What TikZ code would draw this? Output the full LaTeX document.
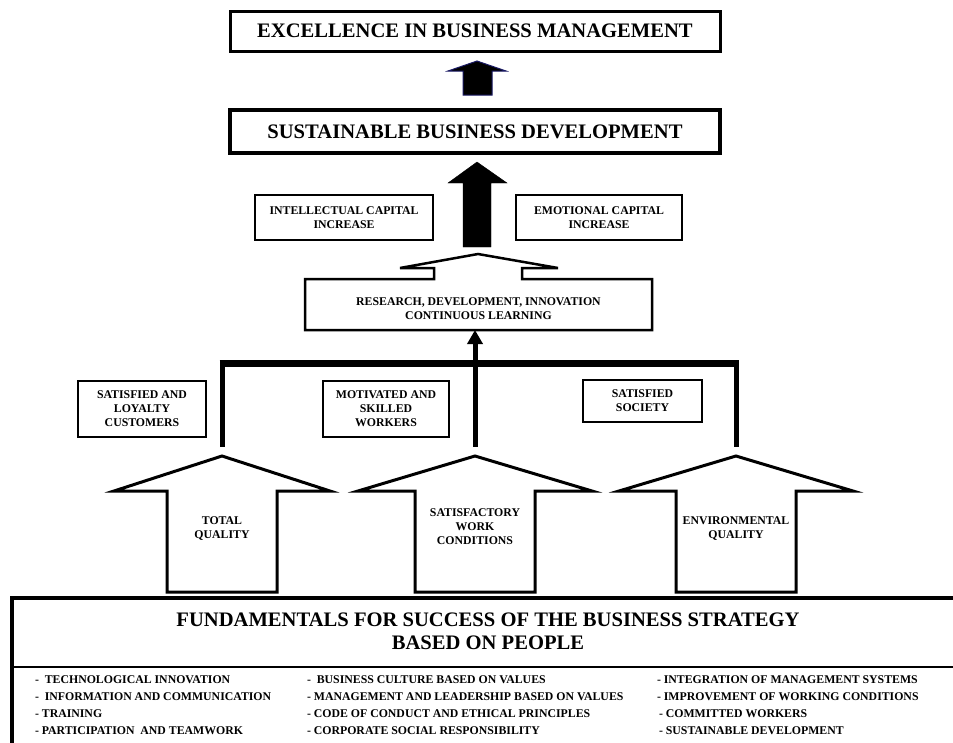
\documentclass[tikz,border=0pt]{standalone}
\usepackage{fontspec}
\setmainfont{Liberation Serif}
\usetikzlibrary{math,arrows.meta}

\begin{document}
\begin{tikzpicture}[x=1pt, y=-1pt,
    txt/.style={inner sep=0pt, outer sep=0pt, align=center, font=\fontsize{11.8}{14}\selectfont\bfseries},
    box/.style={txt, draw, line width=2pt},
    bigbox/.style={box, font=\fontsize{20.6}{24}\selectfont\bfseries},
    list/.style={txt, align=left, anchor=west, font=\fontsize{11.8}{17}\selectfont\bfseries},
    hollow/.style={draw, line width=3pt, fill=white},
    post/.style={line width=5pt}]
  \tikzmath{%
    \cx = 477; \busy = 363; \endy = 447;
    \tipy = 456; \wingy = 491; \basey = 592;
  }
  \useasboundingbox (0,0) rectangle (953,742);
  \clip (0,0) rectangle (953,742);

  % goals
  \node[bigbox, line width=3pt, minimum width=490, minimum height=40] (excel) at (475,31) {EXCELLENCE IN BUSINESS MANAGEMENT};
  \node[bigbox, line width=4pt, minimum width=490, minimum height=43] (sbd) at (475,131.5) {SUSTAINABLE BUSINESS DEVELOPMENT};
  \draw[fill=black, draw={rgb,255:red,25;green,25;blue,100}, line width=1pt]
    (463,95)--(463,71)--(448,71)--(\cx,61)--(506,71)--(492,71)--(492,95)--cycle;
  \draw[fill=black] (463,247)--(463,183)--(448,183)--(\cx,162)--(507,183)--(491,183)--(491,247)--cycle;

  \node[box, minimum width=178, minimum height=45] (intel) at (344,217.5) {INTELLECTUAL CAPITAL\\INCREASE};
  \node[box, minimum width=166, minimum height=45] (emot) at (599,217.5) {EMOTIONAL CAPITAL\\INCREASE};

  % R&D box, open at the top into its arrow
  \node[txt, minimum width=347, minimum height=51] (rd) at (478.5,304.5) {};
  \node[txt] (rdtext) at (478.5,309) {RESEARCH, DEVELOPMENT, INNOVATION\\CONTINUOUS LEARNING};
  \draw[line width=2.5pt] (rd.north west) -- (434,0 |- rd.north) -- (434,268) -- (400,268) -- (478,254)
    -- (558,268) -- (522,268) -- (522,0 |- rd.north) -- (rd.north east) -- (rd.south east) -- (rd.south west) -- cycle;

  \node[box, minimum width=128, minimum height=56] (cust) at (142,409) {SATISFIED AND\\LOYALTY\\CUSTOMERS};
  \node[box, minimum width=126, minimum height=56] (work) at (386,409) {MOTIVATED AND\\SKILLED\\WORKERS};
  \node[box, minimum width=119, minimum height=42] (soc) at (642.5,401) {SATISFIED\\SOCIETY};

  % bus
  \foreach \x [count=\i] in {222,475,736} {
    \coordinate (top\i) at (\x,\busy);
    \coordinate (tip\i) at (\x,\endy);
    \draw[post] (top\i) -- (tip\i);
  }
  \draw[line width=7pt] ([xshift=-2.5pt]top1) -- ([xshift=2.5pt]top3);
  \draw[post, -{Triangle[width=15pt,length=14pt]}] (top2) -- (top2 |- rd.south);

  % pillars
  \foreach \x/\h/\s in {222/108/55, 475/117/60, 736/117/60}
    \draw[hollow] (\x-\s,\basey) -- (\x-\s,\wingy) -- (\x-\h,\wingy) -- (\x,\tipy)
      -- (\x+\h,\wingy) -- (\x+\s,\wingy) -- (\x+\s,\basey) -- cycle;
  \node[txt] (tq) at (222,529) {TOTAL\\QUALITY};
  \node[txt] (swc) at (475,527) {SATISFACTORY\\WORK\\CONDITIONS};
  \node[txt] (eq) at (736,529) {ENVIRONMENTAL\\QUALITY};

  % foundation
  \node[draw, line width=3.5pt, outer sep=0pt, minimum width=970, minimum height=170, anchor=north west] (fund) at (12,598) {};
  \draw[line width=1.5pt] (fund.west |- 0,667) -- (fund.east |- 0,667);
  \node[txt, font=\fontsize{20.6}{23}\selectfont\bfseries] (ftitle) at (488,631)
    {FUNDAMENTALS FOR SUCCESS OF THE BUSINESS STRATEGY\\BASED ON PEOPLE};
  \node[list] (lista) at (35,705.5) {-\ \ TECHNOLOGICAL INNOVATION\\-\ \ INFORMATION AND COMMUNICATION\\- TRAINING\\- PARTICIPATION\ \ AND TEAMWORK};
  \node[list] (listb) at (307,705.5) {-\ \ BUSINESS CULTURE BASED ON VALUES\\- MANAGEMENT AND LEADERSHIP BASED ON VALUES\\- CODE OF CONDUCT AND ETHICAL PRINCIPLES\\- CORPORATE SOCIAL RESPONSIBILITY};
  \node[list] (listc) at (657,705.5) {- INTEGRATION OF MANAGEMENT SYSTEMS\\- IMPROVEMENT OF WORKING CONDITIONS\\\hspace{2pt}- COMMITTED WORKERS\\\hspace{2pt}- SUSTAINABLE DEVELOPMENT};
\end{tikzpicture}
\end{document}
